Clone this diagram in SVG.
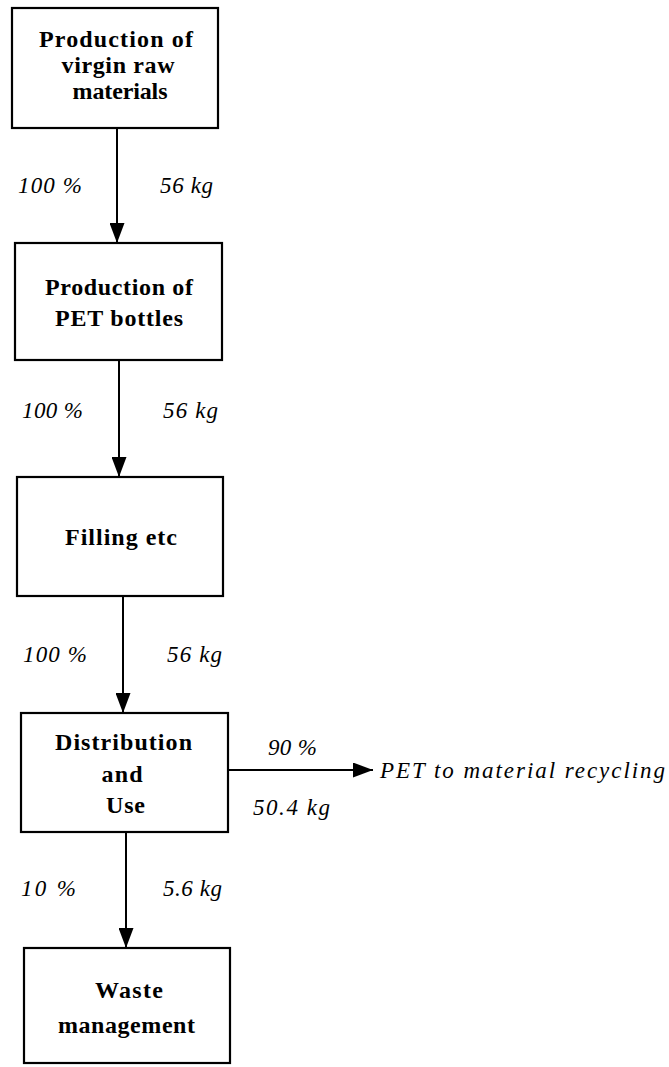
<svg xmlns="http://www.w3.org/2000/svg" width="669" height="1067" viewBox="0 0 669 1067">
<style>
.box{fill:#fff;stroke:#000;stroke-width:2.2}
.bt{font-family:"Liberation Serif","Times New Roman",serif;font-weight:bold;font-size:24px;text-anchor:middle;fill:#000}
.lb{font-family:"Liberation Serif","Times New Roman",serif;font-style:italic;font-size:23px;fill:#000}
.ln{stroke:#000;stroke-width:2;fill:none}
</style>
<defs>
<marker id="ah" markerUnits="userSpaceOnUse" markerWidth="20" markerHeight="15" refX="20" refY="7.5" orient="auto">
<path d="M0,0 L20,7.5 L0,15 z" fill="#000"/>
</marker>
</defs>
<rect width="669" height="1067" fill="#fff"/>
<g id="connectors">
<line class="ln" x1="117" y1="128" x2="117" y2="243" marker-end="url(#ah)"/>
<line class="ln" x1="119" y1="360" x2="119" y2="477" marker-end="url(#ah)"/>
<line class="ln" x1="123" y1="596" x2="123" y2="713" marker-end="url(#ah)"/>
<line class="ln" x1="228" y1="770" x2="373" y2="770" marker-end="url(#ah)"/>
<line class="ln" x1="126" y1="832" x2="126" y2="948" marker-end="url(#ah)"/>
<text class="lb" x="18" y="193" textLength="64">100 %</text>
<text class="lb" x="160" y="193" textLength="53">56 kg</text>
<text class="lb" x="22" y="418" textLength="61">100 %</text>
<text class="lb" x="163" y="418" textLength="55">56 kg</text>
<text class="lb" x="23" y="662" textLength="64">100 %</text>
<text class="lb" x="167" y="662" textLength="55">56 kg</text>
<text class="lb" x="268" y="755" textLength="49">90 %</text>
<text class="lb" x="253" y="815" textLength="77">50.4 kg</text>
<text class="lb" x="380" y="778" textLength="285">PET to material recycling</text>
<text class="lb" x="21" y="896" textLength="55">10 %</text>
<text class="lb" x="163" y="896" textLength="59">5.6 kg</text>
</g>
<g id="node1">
<rect class="box" x="12" y="8" width="206" height="120"/>
<text class="bt" x="116" y="47" textLength="154">Production of</text>
<text class="bt" x="118" y="73" textLength="113">virgin raw</text>
<text class="bt" x="120" y="99" textLength="95">materials</text>
</g>
<g id="node2">
<rect class="box" x="15" y="243" width="207" height="117"/>
<text class="bt" x="119" y="295" textLength="148">Production of</text>
<text class="bt" x="119" y="326" textLength="128">PET bottles</text>
</g>
<g id="node3">
<rect class="box" x="17" y="477" width="206" height="119"/>
<text class="bt" x="121" y="545" textLength="112">Filling etc</text>
</g>
<g id="node4">
<rect class="box" x="21" y="713" width="207" height="119"/>
<text class="bt" x="123.5" y="750" textLength="137">Distribution</text>
<text class="bt" x="122" y="782" textLength="41">and</text>
<text class="bt" x="125.5" y="813" textLength="39">Use</text>
</g>
<g id="node5">
<rect class="box" x="24" y="948" width="206" height="115"/>
<text class="bt" x="129" y="998" textLength="68">Waste</text>
<text class="bt" x="126.5" y="1033" textLength="137">management</text>
</g>
</svg>
